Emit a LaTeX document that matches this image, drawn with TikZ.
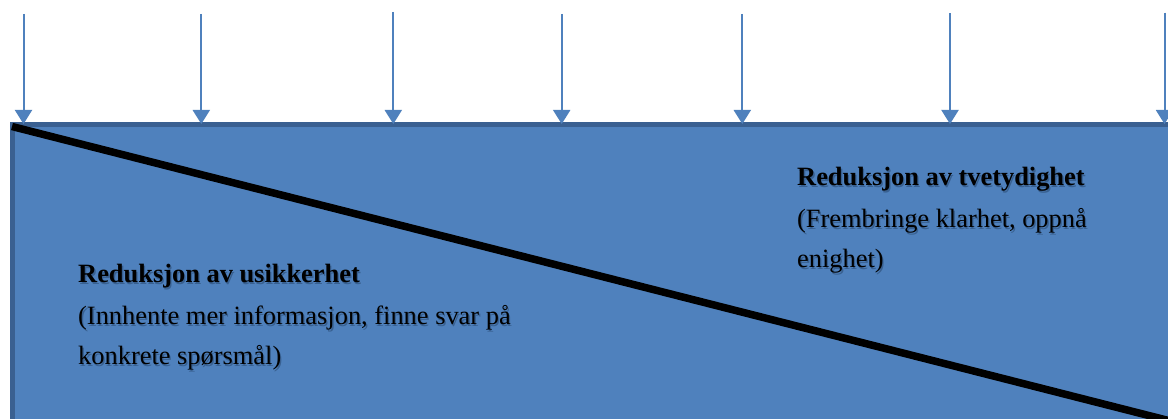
\documentclass[tikz,border=0pt]{standalone}
\usepackage{fontspec}
\setmainfont{Liberation Serif}
\usetikzlibrary{arrows.meta,calc}
\definecolor{panelfill}{HTML}{4F81BD}
\definecolor{paneledge}{HTML}{3A6091}
\definecolor{arrowblue}{HTML}{4F81BD}
\definecolor{textshade}{HTML}{1E3A5C}
\tikzset{
  panel/.style={fill=panelfill,draw=paneledge,line width=5pt},
  divider/.style={line width=7.5pt,black},
  pressure/.style={draw=arrowblue,line width=2pt,
    -{Triangle[width=17pt,length=14pt,fill=arrowblue]}},
  label/.style={anchor=base west,inner sep=0pt,text=black,
    font=\fontsize{26.4}{30}\selectfont},
  heading/.style={label,font=\fontsize{26.4}{30}\selectfont\bfseries},
  shade/.style={text=textshade,opacity=0.45}
}
% text with a soft drop shadow
\newcommand\shadedtext[4]{%
  \node[#1,shade] at ($(#2)+(1.3,1.3)$) {#4};
  \node[#1] (#3) at (#2) {#4};
}
\begin{document}
\begin{tikzpicture}[x=1pt,y=-1pt]
  \useasboundingbox (0,0) rectangle (1168,419);
  \clip (0,0) rectangle (1168,419);
  \fill[white] (0,0) rectangle (1168,419);

  % blue panel running off the right and bottom edges
  \draw[panel] (12.5,125) rectangle (1185,423);

  % diagonal divider
  \coordinate (dstart) at (12,126.5);
  \coordinate (dend) at (1190,426);
  \draw[divider] (dstart) -- (dend);

  % downward pressure arrows onto the panel
  \foreach \i/\x/\y in {1/23.5/14,2/201.3/14,3/393.3/12,4/561.7/14,5/742.3/14,6/950/13.5,7/1164.5/12.7}{
    \coordinate (top\i) at (\x,\y);
    \coordinate (tip\i) at (\x,124);
    \draw[pressure] (top\i) -- (tip\i);
  }

  % lower-left region
  \shadedtext{heading}{78,283}{uhead}{Reduksjon av usikkerhet}
  \shadedtext{label}{78,325}{uline1}{(Innhente mer informasjon, finne svar på}
  \shadedtext{label}{78,365}{uline2}{konkrete spørsmål)}

  % upper-right region
  \shadedtext{heading}{797,186}{thead}{Reduksjon av tvetydighet}
  \shadedtext{label}{797,228}{tline1}{(Frembringe klarhet, oppnå}
  \shadedtext{label}{797,268}{tline2}{enighet)}
\end{tikzpicture}
\end{document}
